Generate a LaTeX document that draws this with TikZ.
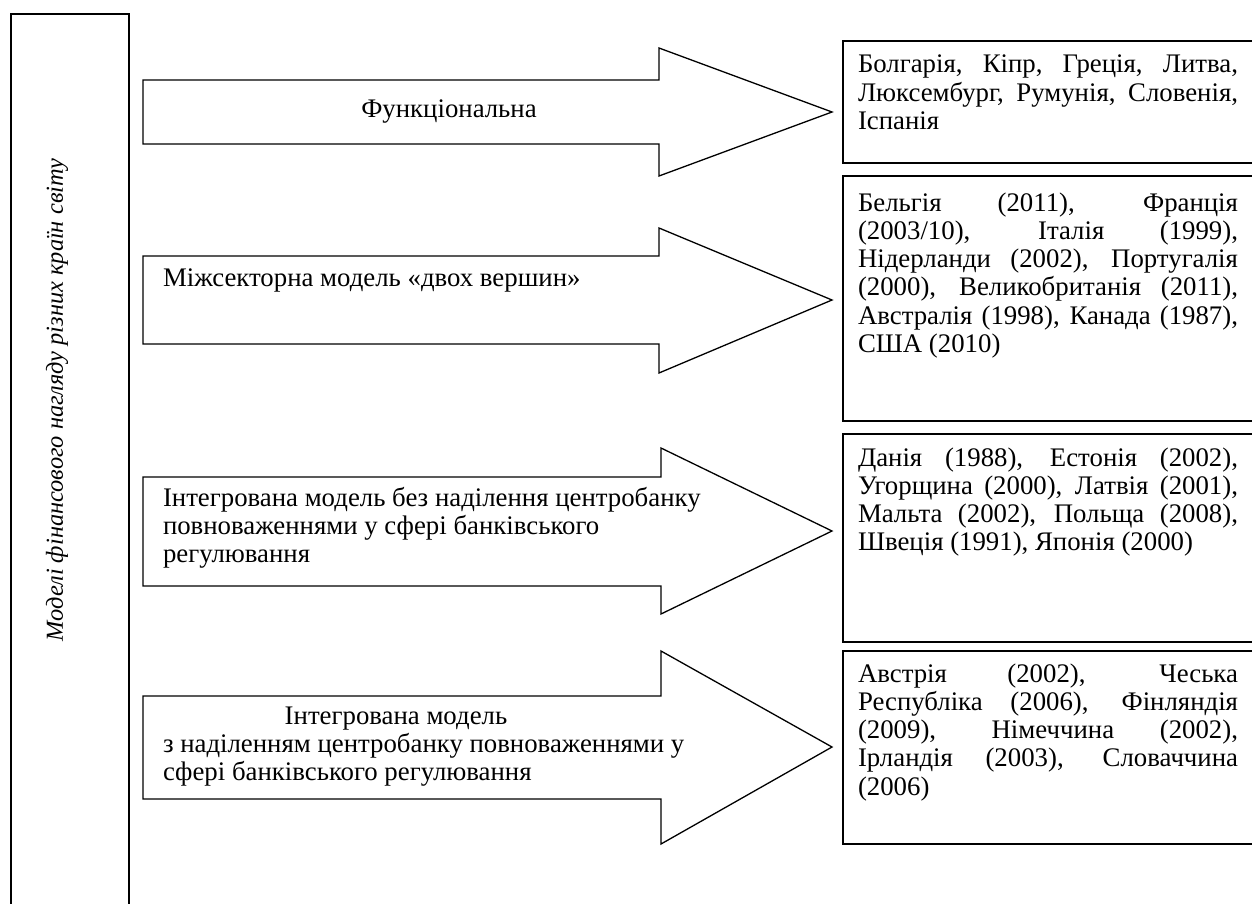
\documentclass[tikz,border=0pt]{standalone}
\usepackage{fontspec}
\setmainfont{Liberation Serif}
\newcommand{\jline}[1]{\makebox[\linewidth][s]{#1}\par}
\begin{document}
\begin{tikzpicture}[x=0.5pt,y=-0.5pt,line width=0.65pt,
  every node/.style={inner sep=0pt,outer sep=0pt,font=\fontsize{13.4}{14.125}\selectfont},
  bigarrow/.style={draw=black,fill=white,line join=miter},
  framebox/.style={draw=black,line join=miter},
  boxtext/.style={anchor=base west},
  arrowtext/.style={anchor=base west}]
\useasboundingbox (0,0) rectangle (1252,904);
\clip (0,0) rectangle (1252,904);
% left frame
\draw[framebox] (11,14) rectangle (129,930);
\node[rotate=90,font=\fontsize{12.2}{14.125}\selectfont\itshape] (title) at (57,400)
  {Моделі фінансового нагляду різних країн світу};
% arrows
\draw[bigarrow] (143,80) -- (659,80) -- (659,48) -- (832,112) -- (659,176) -- (659,144) -- (143,144) -- cycle;
\draw[bigarrow] (143,256) -- (659,256) -- (659,228) -- (832,300) -- (659,373) -- (659,344) -- (143,344) -- cycle;
\draw[bigarrow] (143,477) -- (661,477) -- (661,448) -- (832,531) -- (661,614) -- (661,586) -- (143,586) -- cycle;
\draw[bigarrow] (143,696) -- (661,696) -- (661,651) -- (832,747) -- (661,844) -- (661,799) -- (143,799) -- cycle;
% arrow texts
\node[anchor=base] (a1) at (449,118) {Функціональна};
\node[arrowtext] (a2) at (163,286) {Міжсекторна модель «двох вершин»};
\node[arrowtext] (a3) at (163,506) {\parbox[t]{300pt}{\raggedright
  Інтегрована модель без наділення центробанку\\
  повноваженнями у сфері банківського\\
  регулювання}};
\node[anchor=base] (a4t) at (396,724) {Інтегрована модель};
\node[arrowtext] (a4) at (163,752) {\parbox[t]{300pt}{\raggedright
  з наділенням центробанку повноваженнями у\\
  сфері банківського регулювання}};
% right boxes
\draw[framebox] (843,41) rectangle (1270,163);
\draw[framebox] (843,176) rectangle (1270,421);
\draw[framebox] (843,434) rectangle (1270,642);
\draw[framebox] (843,651) rectangle (1270,844);
\node[boxtext] (b1) at (858,73) {\parbox[t]{190pt}{%
  \jline{Болгарія, Кіпр, Греція, Литва,}
  \jline{Люксембург, Румунія, Словенія,}
  Іспанія}};
\node[boxtext] (b2) at (858,211) {\parbox[t]{190pt}{%
  \jline{Бельгія (2011), Франція}
  \jline{(2003/10), Італія (1999),}
  \jline{Нідерланди (2002), Португалія}
  \jline{(2000), Великобританія (2011),}
  \jline{Австралія (1998), Канада (1987),}
  США (2010)}};
\node[boxtext] (b3) at (858,466) {\parbox[t]{190pt}{%
  \jline{Данія (1988), Естонія (2002),}
  \jline{Угорщина (2000), Латвія (2001),}
  \jline{Мальта (2002), Польща (2008),}
  Швеція (1991), Японія (2000)}};
\node[boxtext] (b4) at (858,682) {\parbox[t]{190pt}{%
  \jline{Австрія (2002), Чеська}
  \jline{Республіка (2006), Фінляндія}
  \jline{(2009), Німеччина (2002),}
  \jline{Ірландія (2003), Словаччина}
  (2006)}};
\end{tikzpicture}
\end{document}
